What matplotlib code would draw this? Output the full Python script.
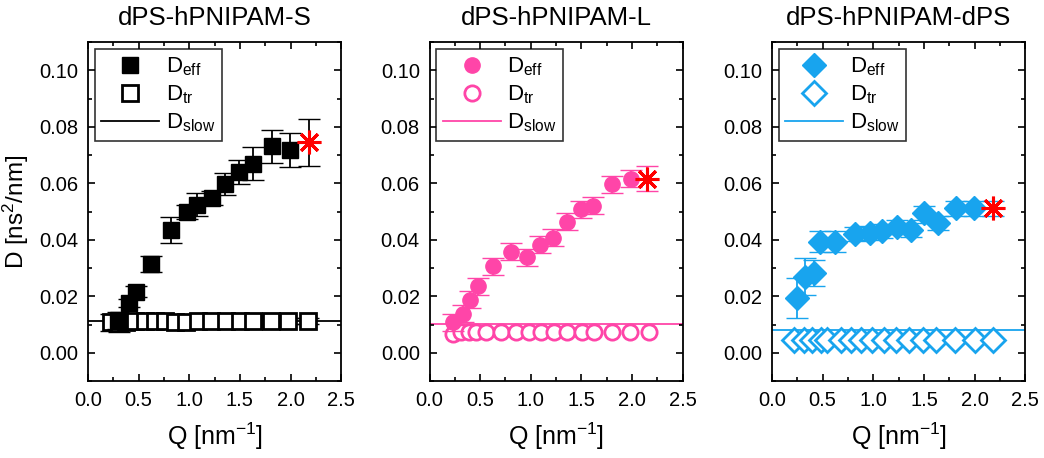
import numpy as np
import matplotlib
matplotlib.use('Agg')
import matplotlib.pyplot as plt
from matplotlib.ticker import MultipleLocator
from matplotlib.lines import Line2D

plt.rcParams['font.family'] = ['Liberation Sans', 'DejaVu Sans']
plt.rcParams['mathtext.fontset'] = 'custom'
plt.rcParams['mathtext.rm'] = 'Liberation Sans'
plt.rcParams['mathtext.it'] = 'Liberation Sans:italic'

titles = ['dPS-hPNIPAM-S', 'dPS-hPNIPAM-L', 'dPS-hPNIPAM-dPS']
colors = ['black', '#FF45A8', '#18A4EE']
markers = ['s', 'o', 'D']

# D_eff (filled) with error bars
q_eff_S = [0.30, 0.40, 0.475, 0.62, 0.82, 0.975, 1.08, 1.22, 1.356, 1.494, 1.625, 1.816, 1.99]
d_eff_S = [0.0115, 0.0176, 0.0217, 0.0315, 0.0435, 0.050, 0.0525, 0.0547, 0.0597, 0.064, 0.067, 0.0731, 0.0717]
e_eff_S = [0.003, 0.0015, 0.0018, 0.0028, 0.0046, 0.0025, 0.004, 0.0025, 0.0039, 0.0043, 0.0058, 0.0059, 0.006]

q_eff_L = [0.234, 0.326, 0.398, 0.48, 0.628, 0.808, 0.965, 1.087, 1.224, 1.359, 1.496, 1.617, 1.807, 1.988]
d_eff_L = [0.0108, 0.0139, 0.0188, 0.0235, 0.0306, 0.0358, 0.0339, 0.0382, 0.0408, 0.0464, 0.0508, 0.052, 0.0597, 0.0617]
e_eff_L = [0.003, 0.003, 0.003, 0.003, 0.003, 0.003, 0.003, 0.003, 0.003, 0.003, 0.003, 0.003, 0.003, 0.003]

q_eff_P = [0.245, 0.327, 0.41, 0.469, 0.625, 0.817, 0.972, 1.088, 1.23, 1.369, 1.50, 1.634, 1.815, 1.997]
d_eff_P = [0.0194, 0.027, 0.0282, 0.0394, 0.0394, 0.042, 0.0425, 0.0431, 0.0447, 0.0435, 0.0494, 0.046, 0.0511, 0.0511]
e_eff_P = [0.007, 0.0065, 0.0047, 0.0037, 0.0037, 0.0025, 0.0025, 0.0025, 0.0025, 0.0025, 0.0025, 0.0025, 0.0025, 0.0025]

# last point (red star)
q_star = [2.178, 2.151, 2.18]
d_star = [0.0746, 0.0617, 0.0511]
e_star = [0.0083, 0.0044, 0.0027]

# D_tr (open)
q_tr_S = [0.224, 0.302, 0.378, 0.46, 0.565, 0.657, 0.756, 0.861, 0.97, 1.085, 1.216, 1.364, 1.496, 1.627, 1.808, 1.972, 2.17]
d_tr_S = [0.0108, 0.0105, 0.0110, 0.0112, 0.0112, 0.0111, 0.0111, 0.0108, 0.0109, 0.0111, 0.0111, 0.0113, 0.0113, 0.0113, 0.0112, 0.0112, 0.0112]
e_tr_S = [0.003, 0.003, 0.002, 0.001, 0.001, 0.001, 0.001, 0.001, 0.001, 0.001, 0.001, 0.001, 0.001, 0.001, 0.001, 0.001, 0.001]

q_tr_L = [0.229, 0.311, 0.387, 0.459, 0.557, 0.705, 0.859, 0.983, 1.098, 1.229, 1.36, 1.508, 1.623, 1.803, 1.983, 2.163]
d_tr_L = [0.0068, 0.0072, 0.0073, 0.0073, 0.0073, 0.0073, 0.0073, 0.0073, 0.0073, 0.0073, 0.0073, 0.0073, 0.0073, 0.0073, 0.0073, 0.0073]

q_tr_P = [0.215, 0.314, 0.397, 0.479, 0.546, 0.678, 0.777, 0.876, 0.992, 1.108, 1.224, 1.356, 1.488, 1.62, 1.802, 2.0, 2.183]
d_tr_P = [0.0047, 0.0047, 0.0047, 0.0047, 0.0047, 0.0047, 0.0047, 0.0047, 0.0047, 0.0047, 0.0047, 0.0047, 0.0047, 0.0047, 0.0047, 0.0047, 0.0047]

# D_slow (horizontal line)
d_slow = [0.0114, 0.0102, 0.0080]

q_eff = [q_eff_S, q_eff_L, q_eff_P]
d_eff = [d_eff_S, d_eff_L, d_eff_P]
e_eff = [e_eff_S, e_eff_L, e_eff_P]
q_tr = [q_tr_S, q_tr_L, q_tr_P]
d_tr = [d_tr_S, d_tr_L, d_tr_P]

fig = plt.figure(figsize=(10.44, 4.58), dpi=100)
lefts = [0.0843, 0.4114, 0.7395]
msize = [11, 11, 12]

for i in range(3):
    ax = fig.add_axes([lefts[i], 0.168, 0.2425, 0.740])
    c = colors[i]
    ax.axhline(d_slow[i], color=c, lw=1.3, zorder=1)
    if i == 0:
        ax.errorbar(q_tr[i], d_tr[i], yerr=e_tr_S, fmt='none', ecolor=c,
                    elinewidth=1.3, capsize=8, zorder=2)
    ax.plot(q_tr[i], d_tr[i], markers[i], ms=msize[i], mfc='white', mec=c, mew=2, zorder=3)
    ax.errorbar(q_eff[i], d_eff[i], yerr=e_eff[i], fmt=markers[i], ms=msize[i], color=c,
                ecolor=c, elinewidth=1.3, capsize=8, zorder=4)
    ax.errorbar([q_star[i]], [d_star[i]], yerr=[e_star[i]], fmt='none', ecolor=c,
                elinewidth=1.3, capsize=8, zorder=5)
    ax.plot([q_star[i]], [d_star[i]], marker=(8, 2, 0), ms=17, mec='red', mew=2.2,
            ls='none', zorder=6)

    ax.set_xlim(0, 2.5)
    ax.set_ylim(-0.01, 0.11)
    ax.xaxis.set_minor_locator(MultipleLocator(0.25))
    ax.yaxis.set_minor_locator(MultipleLocator(0.01))
    ax.set_xticks([0.0, 0.5, 1.0, 1.5, 2.0, 2.5])
    ax.set_xticklabels(['0.0', '0.5', '1.0', '1.5', '2.0', '2.5'])
    ax.set_yticks([0.0, 0.02, 0.04, 0.06, 0.08, 0.10])
    ax.set_yticklabels(['0.00', '0.02', '0.04', '0.06', '0.08', '0.10'])
    ax.tick_params(which='both', direction='in', top=True, right=True, labelsize=14.5)
    ax.tick_params(which='major', length=5, width=1.2, pad=7)
    ax.tick_params(which='minor', length=3, width=1.2)
    for s in ax.spines.values():
        s.set_linewidth(1.3)
    ax.set_title(titles[i], fontsize=18.5, pad=12)
    ax.set_xlabel(r'Q [nm$^{-1}$]', fontsize=18, labelpad=8)
    if i == 0:
        ax.set_ylabel(r'D [ns$^2$/nm]', fontsize=17.5, labelpad=6)

    handles = [Line2D([], [], ls='none', marker=markers[i], ms=msize[i], color=c),
               Line2D([], [], ls='none', marker=markers[i], ms=msize[i], mfc='white', mec=c, mew=2),
               Line2D([], [], color=c, lw=1.3)]
    labels = [r'D$_{\rm eff}$', r'D$_{\rm tr}$', r'D$_{\rm slow}$']
    leg = ax.legend(handles, labels, loc='upper left', fontsize=16, frameon=True,
                    fancybox=False, edgecolor='black', borderpad=0.3, handlelength=2.6,
                    handletextpad=0.3, labelspacing=0.25, borderaxespad=0.3)
    leg.get_frame().set_linewidth(1.2)

fig.savefig('out.png', dpi=100)
